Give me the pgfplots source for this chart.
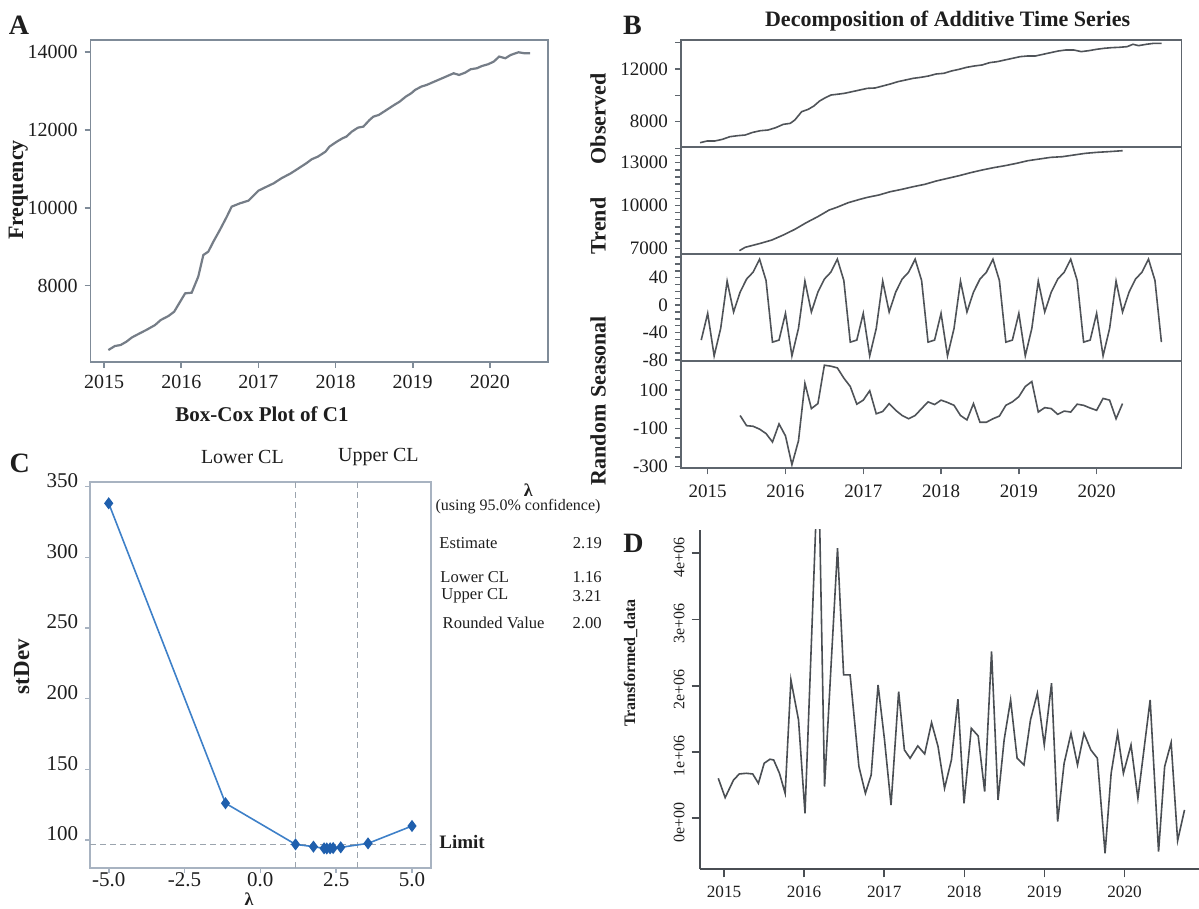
\documentclass[border=0pt]{standalone}
\usepackage{fontspec}
\setmainfont{Liberation Serif}
\usepackage{pgfplots}
\pgfplotsset{compat=1.18}
\definecolor{agray}{HTML}{757D87}
\definecolor{aframe}{HTML}{7F8B98}
\definecolor{bline}{HTML}{4F5358}
\definecolor{bframe}{HTML}{5E656D}
\definecolor{cframe}{HTML}{A8B3C1}
\definecolor{cblue}{HTML}{3E80C8}
\definecolor{cmark}{HTML}{1F5FAD}
\definecolor{dashc}{HTML}{9BA4AE}
\definecolor{dline}{HTML}{4A4E53}
\definecolor{txt}{HTML}{1E1E1E}
\newcommand{\fs}[1]{\fontsize{#1}{#1}\selectfont}
\pgfplotsset{
  base/.style={scale only axis, anchor=south west, tick align=outside,
    xtick pos=bottom, ytick pos=left, clip=true, scaled ticks=false,
    ticklabel style={text=txt}},
  bpanel/.style={base, width=250.2pt, xmin=2014.657, xmax=2021.09,
    axis line style={bframe, line width=0.8pt},
    tick style={bframe, line width=0.7pt}, major tick length=3pt, minor tick length=3pt,
    yticklabel style={font=\fs{9.5}}, xticklabel style={font=\fs{9.5}},
    xtick=\empty},
}
\begin{document}
\begin{tikzpicture}
\path[use as bounding box] (0,0) rectangle (599.5pt,454.5pt);

% ---------------- Panel A ----------------
\begin{axis}[base, at={(45.35pt,273.5pt)}, width=228.65pt, height=161pt,
  xmin=2014.826, xmax=2020.753, ymin=6039, ymax=14316,
  xtick={2015,2016,2017,2018,2019,2020}, xticklabels={2015,2016,2017,2018,2019,2020},
  ytick={8000,10000,12000,14000}, yticklabels={8000,10000,12000,14000},
  axis line style={aframe, line width=0.8pt}, tick style={aframe, line width=0.8pt},
  major tick length=3pt, ticklabel style={font=\fs{10}}]
\addplot[agray, line width=1.1pt] coordinates {
(2015.055,6346) (2015.139,6449) (2015.213,6475) (2015.288,6560) (2015.362,6672) (2015.461,6775)
(2015.561,6877) (2015.660,6989) (2015.734,7118) (2015.833,7220) (2015.908,7332) (2016.05,7803)
(2016.135,7820) (2016.22,8232) (2016.286,8789) (2016.35,8875) (2016.416,9132) (2016.50,9432)
(2016.59,9774) (2016.653,10032) (2016.76,10117) (2016.87,10186) (2017.0,10443) (2017.107,10546)
(2017.197,10631) (2017.297,10760) (2017.42,10889) (2017.52,11017) (2017.62,11146) (2017.69,11249)
(2017.77,11317) (2017.87,11446) (2017.92,11574) (2018.016,11703) (2018.09,11789) (2018.14,11832)
(2018.21,11960) (2018.29,12063) (2018.36,12089) (2018.44,12260) (2018.49,12346) (2018.56,12389)
(2018.66,12517) (2018.76,12646) (2018.83,12731) (2018.91,12860) (2018.98,12946) (2019.03,13031)
(2019.11,13117) (2019.18,13160) (2019.28,13246) (2019.38,13331) (2019.48,13417) (2019.53,13460)
(2019.60,13417) (2019.68,13477) (2019.75,13563) (2019.83,13589) (2019.90,13649) (2019.975,13691)
(2020.05,13760) (2020.12,13889) (2020.20,13846) (2020.27,13931) (2020.37,14000) (2020.45,13974)
(2020.52,13974)};
\end{axis}

% ---------------- Panel B: Observed ----------------
\begin{axis}[bpanel, at={(340.5pt,381.15pt)}, height=53.35pt,
  ymin=6102, ymax=14201, ytick={8000,12000}, yticklabels={8000,12000},
  minor ytick={10000,14000}]
\addplot[bline, line width=0.8pt] coordinates {
(2014.902,6404) (2014.99,6530) (2015.088,6530) (2015.187,6657) (2015.285,6860) (2015.383,6936)
(2015.481,6987) (2015.58,7189) (2015.678,7316) (2015.776,7367) (2015.874,7544) (2015.972,7797)
(2016.061,7873) (2016.12,8126) (2016.208,8760) (2016.292,8936) (2016.365,9190) (2016.439,9570)
(2016.513,9822) (2016.586,10025) (2016.66,10076) (2016.758,10152) (2016.857,10278) (2016.955,10405)
(2017.053,10531) (2017.151,10557) (2017.25,10709) (2017.348,10861) (2017.446,11038) (2017.544,11164)
(2017.642,11291) (2017.741,11367) (2017.839,11468) (2017.937,11620) (2018.035,11671) (2018.134,11848)
(2018.232,11975) (2018.33,12127) (2018.428,12228) (2018.527,12304) (2018.625,12481) (2018.723,12557)
(2018.821,12684) (2018.919,12810) (2019.018,12937) (2019.116,12988) (2019.214,12988) (2019.312,13114)
(2019.41,13241) (2019.509,13367) (2019.607,13443) (2019.705,13443) (2019.803,13317) (2019.902,13393)
(2020.0,13494) (2020.098,13570) (2020.196,13620) (2020.295,13646) (2020.393,13696) (2020.467,13874)
(2020.54,13772) (2020.639,13874) (2020.737,13949) (2020.835,13949)};
\end{axis}

% ---------------- Panel B: Trend ----------------
\begin{axis}[bpanel, at={(340.5pt,327.5pt)}, height=53.65pt,
  ymin=6601, ymax=14121, ytick={7000,10000,13000}, yticklabels={7000,10000,13000},
  minor ytick={7500,8000,8500,9000,9500,10500,11000,11500,12000,12500,13500,14000}]
\addplot[bline, line width=0.8pt] coordinates {
(2015.408,6833) (2015.481,7067) (2015.678,7347) (2015.825,7580) (2015.972,7931) (2016.12,8328)
(2016.267,8795) (2016.415,9216) (2016.562,9683) (2016.66,9870) (2016.807,10197) (2016.955,10430)
(2017.053,10571) (2017.2,10734) (2017.348,10968) (2017.495,11131) (2017.642,11318) (2017.79,11482)
(2017.937,11715) (2018.084,11902) (2018.232,12089) (2018.379,12299) (2018.527,12486) (2018.674,12650)
(2018.821,12790) (2018.969,12953) (2019.116,13140) (2019.263,13257) (2019.41,13374) (2019.558,13420)
(2019.705,13537) (2019.853,13654) (2020.0,13724) (2020.147,13771) (2020.334,13841)};
\end{axis}

% ---------------- Panel B: Seasonal ----------------
\begin{axis}[bpanel, at={(340.5pt,274pt)}, height=53.5pt,
  ymin=-81.5, ymax=74.6, ytick={-80,-40,0,40}, yticklabels={-80,-40,0,40},
  minor ytick={-70,-60,-50,-30,-20,-10,10,20,30,50,60,70}]
\addplot[bline, line width=0.8pt] coordinates {
(2014.917,-51) (2015.000,-12) (2015.083,-74) (2015.167,-34) (2015.250,35) (2015.333,-10)
(2015.417,19) (2015.500,38) (2015.583,48) (2015.667,67) (2015.750,36) (2015.833,-54)
(2015.917,-51) (2016.000,-12) (2016.083,-74) (2016.167,-34) (2016.250,35) (2016.333,-10)
(2016.417,19) (2016.500,38) (2016.583,48) (2016.667,67) (2016.750,36) (2016.833,-54)
(2016.917,-51) (2017.000,-12) (2017.083,-74) (2017.167,-34) (2017.250,35) (2017.333,-10)
(2017.417,19) (2017.500,38) (2017.583,48) (2017.667,67) (2017.750,36) (2017.833,-54)
(2017.917,-51) (2018.000,-12) (2018.083,-74) (2018.167,-34) (2018.250,35) (2018.333,-10)
(2018.417,19) (2018.500,38) (2018.583,48) (2018.667,67) (2018.750,36) (2018.833,-54)
(2018.917,-51) (2019.000,-12) (2019.083,-74) (2019.167,-34) (2019.250,35) (2019.333,-10)
(2019.417,19) (2019.500,38) (2019.583,48) (2019.667,67) (2019.750,36) (2019.833,-54)
(2019.917,-51) (2020.000,-12) (2020.083,-74) (2020.167,-34) (2020.250,35) (2020.333,-10)
(2020.417,19) (2020.500,38) (2020.583,48) (2020.667,67) (2020.750,36) (2020.833,-54)};
\end{axis}

% ---------------- Panel B: Random ----------------
\begin{axis}[bpanel, at={(340.5pt,220.35pt)}, height=53.65pt,
  ymin=-308, ymax=251, ytick={-300,-100,100}, yticklabels={-300,-100,100},
  minor ytick={-250,-200,-150,-50,0,50,150,200},
  xtick={2015,2016,2017,2018,2019,2020}, xticklabels={2015,2016,2017,2018,2019,2020},
  xticklabel style={yshift=-2pt}]
\addplot[bline, line width=0.8pt] coordinates {
(2015.417,-33) (2015.500,-86) (2015.583,-89) (2015.667,-104) (2015.750,-127) (2015.833,-171)
(2015.917,-77) (2016.000,-139) (2016.083,-289) (2016.167,-165) (2016.250,135) (2016.333,3)
(2016.417,29) (2016.500,229) (2016.583,224) (2016.667,215) (2016.750,162) (2016.833,118)
(2016.917,26) (2017.000,47) (2017.083,96) (2017.167,-24) (2017.250,-12) (2017.333,29)
(2017.417,-6) (2017.500,-33) (2017.583,-50) (2017.667,-33) (2017.750,3) (2017.833,38)
(2017.917,24) (2018.000,47) (2018.083,35) (2018.167,20) (2018.250,-33) (2018.333,-56)
(2018.417,29) (2018.500,-68) (2018.583,-68) (2018.667,-50) (2018.750,-36) (2018.833,20)
(2018.917,38) (2019.000,65) (2019.083,118) (2019.167,144) (2019.250,-15) (2019.333,8)
(2019.417,3) (2019.500,-27) (2019.583,-10) (2019.667,-15) (2019.750,26) (2019.833,20)
(2019.917,6) (2020.000,-6) (2020.083,56) (2020.167,47) (2020.250,-50) (2020.333,29)};
\end{axis}

% ---------------- Panel C ----------------
\begin{axis}[base, at={(45.1pt,20.65pt)}, width=170.4pt, height=193pt,
  xmin=-5.61, xmax=5.626, ymin=80.4, ymax=353.5,
  xtick={-5,-2.5,0,2.5,5}, xticklabels={-5.0,-2.5,0.0,2.5,5.0},
  ytick={100,150,200,250,300,350}, yticklabels={100,150,200,250,300,350},
  yticklabel style={yshift=3pt},
  xticklabel style={inner sep=0.5pt, yshift=1pt},
  axis line style={cframe, line width=1pt}, tick style={cframe, line width=0.8pt},
  major tick length=2.5pt, ticklabel style={font=\fs{10.5}}]
\addplot[dashc, line width=0.7pt, dash pattern=on 3pt off 2pt] coordinates {(1.16,80.4) (1.16,353.5)};
\addplot[dashc, line width=0.7pt, dash pattern=on 3pt off 2pt] coordinates {(3.21,80.4) (3.21,353.5)};
\addplot[dashc, line width=0.7pt, dash pattern=on 3pt off 2pt] coordinates {(-5.61,96.9) (5.626,96.9)};
\addplot[cblue, line width=0.8pt, mark=diamond*, mark size=2.4pt, mark options={fill=cmark, draw=cmark}] coordinates {
(-5,338.2) (-1.15,126) (1.16,96.9) (1.75,95.3) (2.1,94.1) (2.19,94.0) (2.3,94.1) (2.4,94.3) (2.65,94.8) (3.55,97.6) (5.0,109.9)};
\end{axis}

% ---------------- Panel D ----------------
\begin{axis}[scale only axis, anchor=south west, at={(350pt,20pt)}, width=249.5pt, height=169.5pt,
  xmin=2014.70, xmax=2020.93, ymin=-0.765, ymax=4.35,
  axis x line=bottom, axis y line=left, axis line style={-, dline, line width=0.8pt},
  tick align=outside, tick style={dline, line width=0.8pt}, major tick length=4.2pt,
  xtick={2015,2016,2017,2018,2019,2020}, xticklabels={2015,2016,2017,2018,2019,2020},
  ytick={0,1,2,3,4}, yticklabels={0e+00,1e+06,2e+06,3e+06,4e+06},
  xticklabel style={font=\fs{8.6}, text=txt, yshift=-1pt},
  yticklabel style={font=\fs{8}, text=txt, rotate=90, anchor=south, xshift=-2pt},
  clip=true]
\addplot[dline, line width=0.8pt] coordinates {
(2014.928,0.604) (2015.014,0.312) (2015.119,0.579) (2015.191,0.669) (2015.277,0.679) (2015.358,0.669)
(2015.429,0.528) (2015.501,0.830) (2015.573,0.891) (2015.62,0.880) (2015.692,0.679) (2015.763,0.377)
(2015.835,2.088) (2015.93,1.484) (2016.011,0.075) (2016.095,2.79) (2016.178,5.5) (2016.255,0.48)
(2016.336,2.3) (2016.417,4.075) (2016.493,2.164) (2016.574,2.164) (2016.684,0.78) (2016.765,0.377)
(2016.837,0.654) (2016.923,2.013) (2017.004,1.18) (2017.085,0.201) (2017.18,1.912) (2017.252,1.031)
(2017.323,0.906) (2017.419,1.092) (2017.505,0.971) (2017.591,1.444) (2017.672,1.082) (2017.753,0.453)
(2017.839,0.881) (2017.92,1.796) (2017.996,0.226) (2018.087,1.358) (2018.173,1.243) (2018.254,0.403)
(2018.34,2.516) (2018.421,0.277) (2018.497,1.182) (2018.578,1.786) (2018.659,0.906) (2018.745,0.805)
(2018.826,1.484) (2018.912,1.887) (2018.998,1.107) (2019.089,2.038) (2019.165,-0.05) (2019.246,0.830)
(2019.332,1.283) (2019.413,0.805) (2019.494,1.283) (2019.58,1.031) (2019.661,0.906) (2019.757,-0.528)
(2019.833,0.679) (2019.914,1.283) (2019.986,0.679) (2020.081,1.107) (2020.167,0.302) (2020.32,1.786)
(2020.425,-0.503) (2020.501,0.780) (2020.582,1.142) (2020.663,-0.337) (2020.749,0.126)};
\end{axis}

% ---------------- Texts ----------------
\begin{scope}[every node/.style={text=txt, inner sep=0pt}]
\node[font=\bfseries\fs{14}] at (9.5pt,442pt) {A};
\node[font=\bfseries\fs{11}, rotate=90] at (9.2pt,359.5pt) {Frequency};
\node[font=\bfseries\fs{10.5}] at (131pt,247.5pt) {Box-Cox Plot of C1};
\node[font=\bfseries\fs{14}] at (316.25pt,442pt) {B};
\node[font=\bfseries\fs{11}] at (473.8pt,444.15pt) {Decomposition of Additive Time Series};
\node[font=\bfseries\fs{11}, rotate=90] at (299pt,395pt) {Observed};
\node[font=\bfseries\fs{11}, rotate=90] at (299pt,341.5pt) {Trend};
\node[font=\bfseries\fs{11}, rotate=90] at (299pt,276pt) {Seasonal};
\node[font=\bfseries\fs{11}, rotate=90] at (299pt,232pt) {Random};
\node[font=\bfseries\fs{14}] at (9.9pt,222.85pt) {C};
\node[font=\fs{10}] at (121.2pt,225.85pt) {Lower CL};
\node[font=\fs{10}] at (189.2pt,225.85pt) {Upper CL};
\node[font=\bfseries\fs{11.5}, rotate=90] at (10.85pt,121.15pt) {stDev};
\node[font=\bfseries\fs{9}] at (124.5pt,5pt) {λ};
\node[font=\bfseries\fs{9}] at (264.15pt,209.5pt) {λ};
\node[font=\fs{8}] at (259pt,201.15pt) {(using 95.0\% confidence)};
\node[font=\fs{8.3}, anchor=west] at (219.5pt,183.15pt) {Estimate};
\node[font=\fs{8.3}, anchor=east] at (301.15pt,183.15pt) {2.19};
\node[font=\fs{8.3}, anchor=west] at (220pt,165.85pt) {Lower CL};
\node[font=\fs{8.3}, anchor=east] at (301pt,165.85pt) {1.16};
\node[font=\fs{8.3}, anchor=west] at (220.5pt,156.5pt) {Upper CL};
\node[font=\fs{8.3}, anchor=east] at (301pt,156.5pt) {3.21};
\node[font=\fs{8.3}, anchor=west] at (221.15pt,143.15pt) {Rounded Value};
\node[font=\fs{8.3}, anchor=east] at (301pt,143.15pt) {2.00};
\node[font=\bfseries\fs{9.5}, anchor=west] at (219.5pt,33.65pt) {Limit};
\node[font=\bfseries\fs{14}] at (316.8pt,182.85pt) {D};
\node[font=\bfseries\fs{8}, rotate=90] at (315.3pt,123pt) {Transformed\_data};
\end{scope}
\end{tikzpicture}
\end{document}
